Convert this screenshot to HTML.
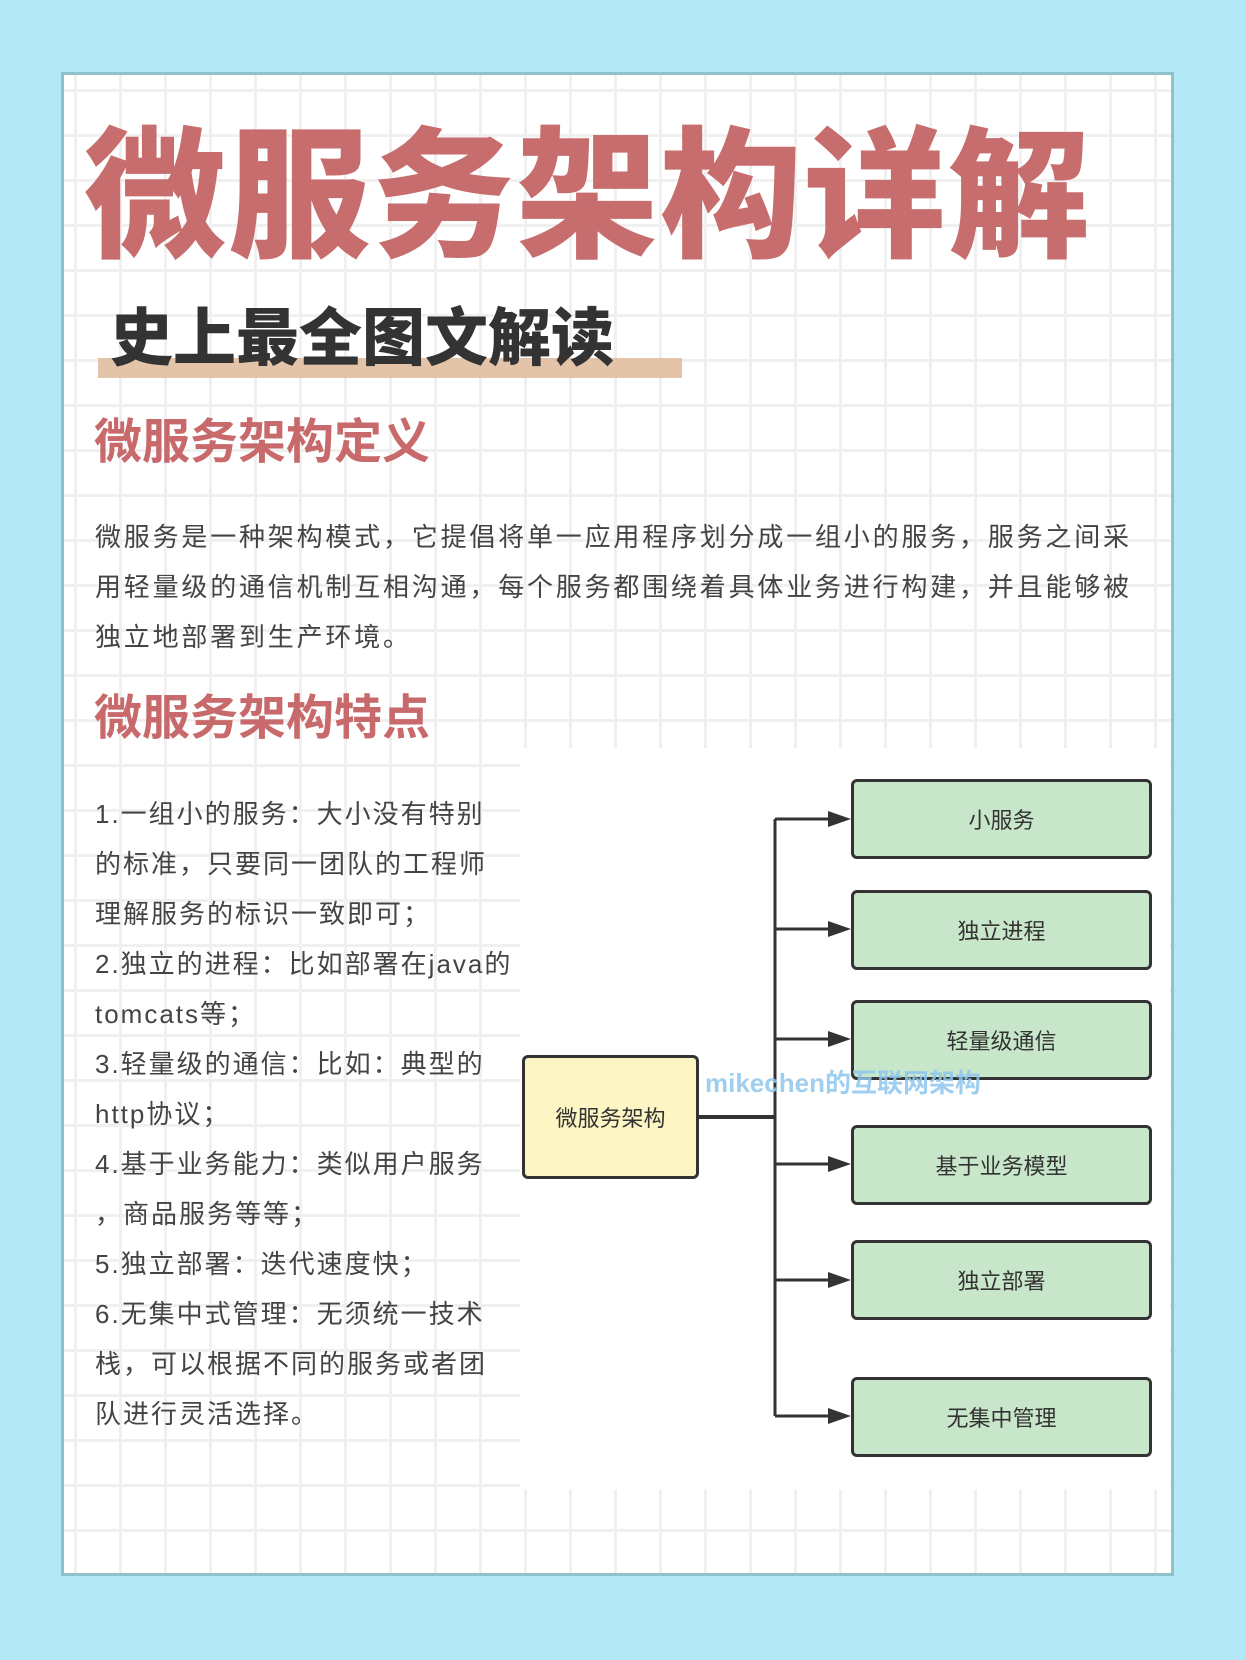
<!DOCTYPE html>
<html><head><meta charset="utf-8"><style>
body{margin:0;width:1245px;height:1660px;background:#b3e9f6;position:relative;overflow:hidden;font-family:"Liberation Sans","Noto Sans CJK SC",sans-serif;}
.card{position:absolute;left:61px;top:72px;width:1113px;height:1504px;background-color:#fff;
background-image:linear-gradient(#f0f0f0 3px,transparent 3px),linear-gradient(90deg,#f0f0f0 3px,transparent 3px);background-size:45px 45px;background-position:10px 14px;border:3px solid #8fc3cc;box-sizing:border-box;}
.t{position:absolute;white-space:nowrap;}
.title{left:84px;top:118px;font-size:142px;font-weight:900;color:#c76d6d;letter-spacing:2px;line-height:160px;}
.bar{position:absolute;left:98px;top:358px;width:584px;height:20px;background:#e3c4a8;}
.sub{left:110px;top:304px;font-size:63px;font-weight:900;color:#333;line-height:70px;}
.h{left:94px;font-size:48px;font-weight:bold;color:#c8696b;line-height:56px;}
.p{left:95px;font-size:26px;color:#444;letter-spacing:2.8px;line-height:50px;}
.box{position:absolute;border:3px solid #333;border-radius:6px;box-sizing:border-box;display:flex;align-items:center;justify-content:center;font-size:22px;color:#333;}
.g{left:851px;width:301px;height:80px;background:#c8e6c9;}
</style></head><body>
<div class="card"></div>
<div class="t title">微服务架构详解</div>
<div class="bar"></div>
<div class="t sub">史上最全图文解读</div>
<div class="t h" style="top:415px">微服务架构定义</div>
<div class="t p" style="top:512px">微服务是一种架构模式，它提倡将单一应用程序划分成一组小的服务，服务之间采<br>用轻量级的通信机制互相沟通，每个服务都围绕着具体业务进行构建，并且能够被<br>独立地部署到生产环境。</div>
<div class="t h" style="top:691px">微服务架构特点</div>
<div style="position:absolute;left:520px;top:748px;width:650px;height:742px;background:#fff;"></div>
<div class="t p" style="top:789px;letter-spacing:2px">1.一组小的服务：大小没有特别<br>的标准，只要同一团队的工程师<br>理解服务的标识一致即可；<br>2.独立的进程：比如部署在java的<br>tomcats等；<br>3.轻量级的通信：比如：典型的<br>http协议；<br>4.基于业务能力：类似用户服务<br>，商品服务等等；<br>5.独立部署：迭代速度快；<br>6.无集中式管理：无须统一技术<br>栈，可以根据不同的服务或者团<br>队进行灵活选择。</div>
<svg style="position:absolute;left:0;top:0" width="1245" height="1660">
<g stroke="#333" stroke-width="3" fill="none">
<line x1="699" y1="1117" x2="775" y2="1117" stroke-width="4"/>
<line x1="775" y1="819" x2="775" y2="1416"/>
<line x1="775" y1="819" x2="835" y2="819"/>
<line x1="775" y1="929" x2="835" y2="929"/>
<line x1="775" y1="1039" x2="835" y2="1039"/>
<line x1="775" y1="1164" x2="835" y2="1164"/>
<line x1="775" y1="1280" x2="835" y2="1280"/>
<line x1="775" y1="1416" x2="835" y2="1416"/>
</g>
<g fill="#333">
<polygon points="828,811 851,819 828,827"/>
<polygon points="828,921 851,929 828,937"/>
<polygon points="828,1031 851,1039 828,1047"/>
<polygon points="828,1156 851,1164 828,1172"/>
<polygon points="828,1272 851,1280 828,1288"/>
<polygon points="828,1408 851,1416 828,1424"/>
</g>
</svg>
<div class="box" style="left:522px;top:1055px;width:177px;height:124px;background:#fdf5c4">微服务架构</div>
<div class="box g" style="top:779px">小服务</div>
<div class="box g" style="top:890px">独立进程</div>
<div class="box g" style="top:1000px">轻量级通信</div>
<div class="box g" style="top:1125px">基于业务模型</div>
<div class="box g" style="top:1240px">独立部署</div>
<div class="box g" style="top:1377px">无集中管理</div>
<div class="t" style="left:705px;top:1063px;font-size:26px;font-weight:bold;color:#8ec6ee;opacity:.85">mikechen的互联网架构</div>
</body></html>
